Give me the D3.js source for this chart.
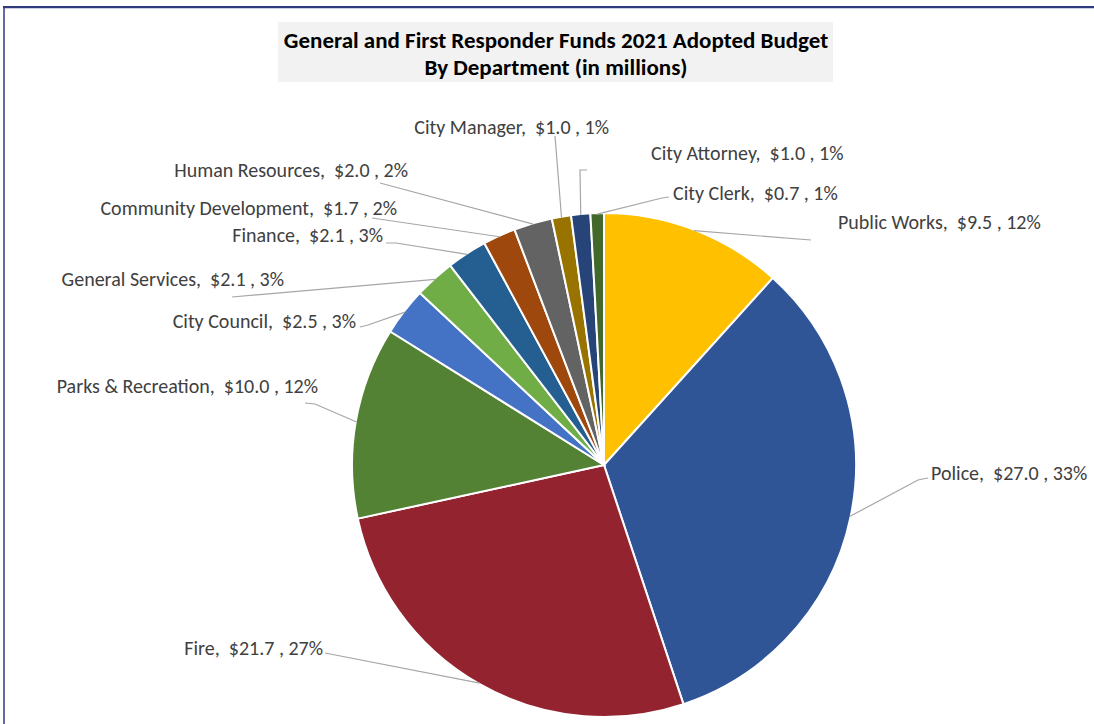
<!DOCTYPE html>
<html>
<head>
<meta charset="utf-8">
<script src="https://cdn.jsdelivr.net/npm/d3@7"></script>
<style>
    body { margin: 0; background: #fff; }
    .label { font-family: "Carlito", "Liberation Sans Narrow", "Roboto Condensed", "Noto Sans", sans-serif; font-size: 20px; fill: #404040; }
    .title { font-family: "Carlito", "Liberation Sans Narrow", "Roboto Condensed", "Noto Sans", sans-serif; font-size: 23px; font-weight: bold; fill: #000; }
    .leader { fill: none; stroke: #a6a6a6; stroke-width: 1.2; }
</style>
</head>
<body>
<div id="chart"></div>
<script>
// departments, clockwise from 12 o'clock
var departments = ['Public Works', 'Police', 'Fire', 'Parks & Recreation', 'City Council',
    'General Services', 'Finance', 'Community Development', 'Human Resources',
    'City Manager', 'City Attorney', 'City Clerk'];
// budget in millions
var budget = [9.5, 27.0, 21.7, 10.0, 2.5, 2.1, 2.1, 1.7, 2.0, 1.0, 1.0, 0.7];
var sliceColors = ['#FFC000', '#2F5597', '#942330', '#548235', '#4472C4', '#70AD47',
    '#255E91', '#9E480E', '#636363', '#997300', '#264478', '#43682B'];
var titleLines = ['General and First Responder Funds 2021 Adopted Budget', 'By Department (in millions)'];

// label placement: [x, y, anchor, extra leader points from label toward slice]
var labelLayout = [
    [838, 229, 'start', [[811, 240]]],
    [931, 480, 'start', [[928, 478], [918, 480]]],
    [323, 655, 'end', [[325, 653]]],
    [318, 393, 'end', [[305, 403], [315, 404]]],
    [356, 328, 'end', [[360, 327], [368, 325]]],
    [284, 286, 'end', [[232, 297]]],
    [383, 242, 'end', [[386, 243], [396, 243]]],
    [397, 215, 'end', [[372, 218]]],
    [408, 177, 'end', [[380, 183]]],
    [609, 134, 'end', [[555, 136]]],
    [651, 160, 'start', [[587, 170], [580, 170]]],
    [673, 200, 'start', [[669, 197], [662, 198]]]
];

var width = 1094, height = 724;
var cx = 604, cy = 465, radius = 252;

var svg = d3.select('#chart').append('svg')
    .attr('width', width)
    .attr('height', height);

// frame lines (top and left edges of the screenshot frame)
svg.append('line').attr('x1', 4).attr('x2', width).attr('y1', 8.5).attr('y2', 8.5)
    .attr('stroke', '#c9cde0').attr('stroke-width', 1);
svg.append('line').attr('x1', 3).attr('x2', width).attr('y1', 7).attr('y2', 7)
    .attr('stroke', '#2f3b7c').attr('stroke-width', 2);
svg.append('line').attr('x1', 4).attr('x2', 4).attr('y1', 6).attr('y2', height)
    .attr('stroke', '#2f3b7c').attr('stroke-width', 1.5);

// title
svg.append('rect').attr('x', 278).attr('y', 22).attr('width', 555).attr('height', 60)
    .attr('fill', '#f2f2f2');
svg.selectAll('text.title')
    .data(titleLines)
    .enter().append('text')
    .attr('class', 'title')
    .attr('text-anchor', 'middle')
    .attr('x', 556)
    .attr('y', function (d, i) { return 48 + i * 27; })
    .text(function (d) { return d; });

var total = d3.sum(budget);
var rows = departments.map(function (d, i) {
    return { name: d, value: budget[i], color: sliceColors[i], layout: labelLayout[i] };
});

var pie = d3.pie()
    .sort(null)
    .value(function (d) { return d.value; });

var arc = d3.arc()
    .innerRadius(0)
    .outerRadius(radius);

var g = svg.append('g')
    .attr('transform', 'translate(' + cx + ',' + cy + ')');

var arcs = pie(rows);

g.selectAll('path.slice')
    .data(arcs)
    .enter().append('path')
    .attr('class', 'slice')
    .attr('d', arc)
    .attr('fill', function (d) { return d.data.color; })
    .attr('stroke', '#fff')
    .attr('stroke-width', 2);

// leader lines end on the outer edge at the middle of each slice
function edgePoint(d) {
    var a = (d.startAngle + d.endAngle) / 2;
    return [cx + (radius - 1) * Math.sin(a), cy - (radius - 1) * Math.cos(a)];
}

svg.selectAll('path.leader')
    .data(arcs)
    .enter().append('path')
    .attr('class', 'leader')
    .attr('d', function (d) {
        var pts = d.data.layout[3].concat([edgePoint(d)]);
        return d3.line()(pts);
    });

svg.selectAll('text.label')
    .data(arcs)
    .enter().append('text')
    .attr('class', 'label')
    .attr('x', function (d) { return d.data.layout[0]; })
    .attr('y', function (d) { return d.data.layout[1]; })
    .attr('text-anchor', function (d) { return d.data.layout[2]; })
    .text(function (d) {
        var pct = Math.round(d.data.value / total * 100);
        return d.data.name + ',\u00a0 $' + d.data.value.toFixed(1) + '\u00a0, ' + pct + '%';
    });
</script>
</body>
</html>
